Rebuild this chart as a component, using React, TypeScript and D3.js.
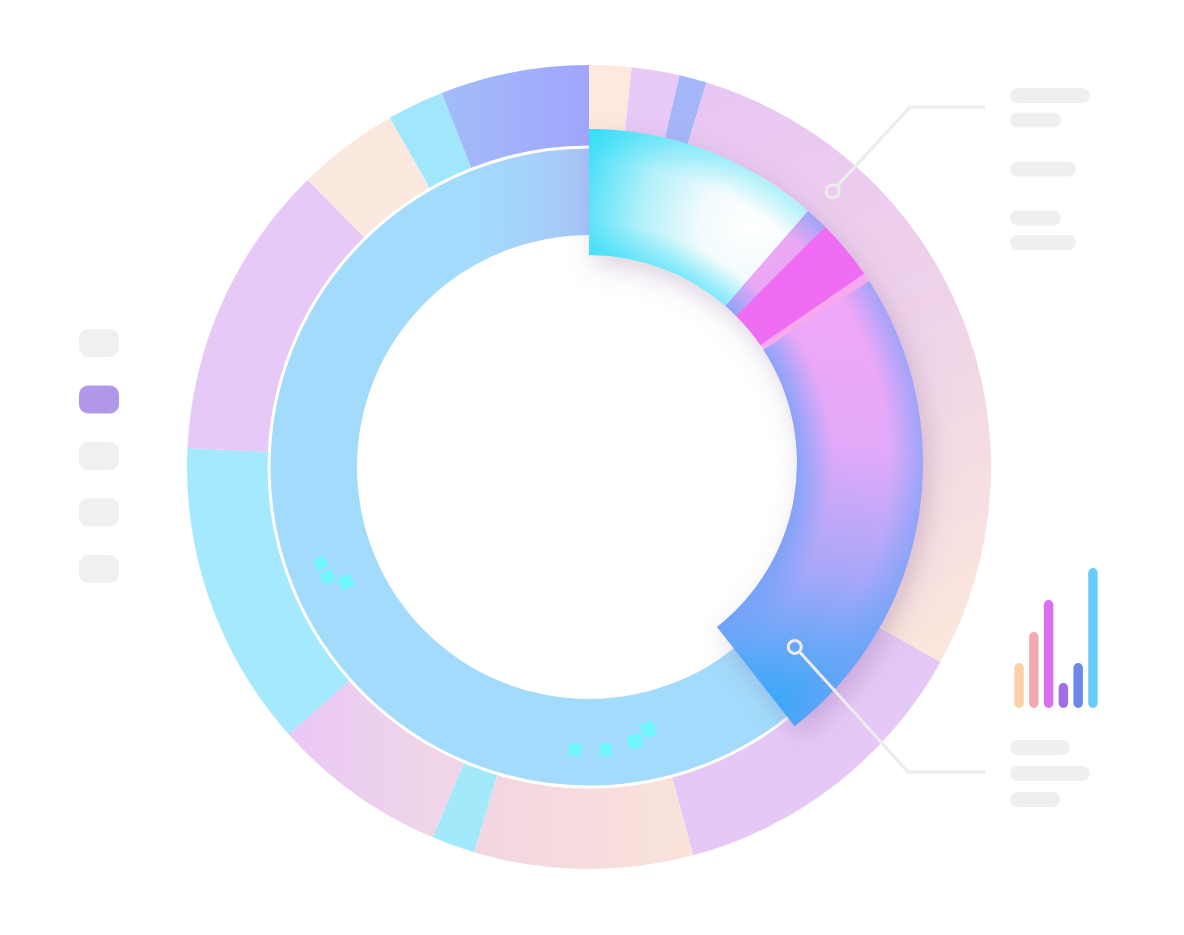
import React from 'react';
import * as d3 from 'd3';

// outer ring shares (degrees of the circle), clockwise from 12 o'clock
const outerShares = [6.1, 6.9, 4, 102, 46, 31.6, 6.3, 25.4, 44.4, 42.9, 14.7, 8.2, 21.5];
const outerFills = [
  '#fde9dd', '#e9c9f6', '#a6b6fa', 'url(#gPinkPeach)', '#e5c8f6', 'url(#gRosePeach)',
  '#a2e9fc', 'url(#gLavRose)', '#a4e9fd', '#e6c9f7', '#fbe8df', '#a0e7fc', 'url(#gPeri)'
];

// highlighted (pulled out) slices of the inner ring
const highlightShares = [41, 4, 10.5, 1.5, 85];
const highlightFills = ['url(#gCyan)', '#eda8f5', '#f06cf2', '#f9a8ef', 'url(#gPinkBlue)'];
const highlightEdgeTint = ['url(#gEdgeCyan)', 'url(#gEdge)', null, null, 'url(#gEdge)'];

// little pixel squares on the inner ring (angle deg, radius, size)
const pixelAngles = [250.3, 247.2, 244.7, 182.8, 176.6, 170.5, 167.3];
const pixelRadius = [285, 284, 269, 283, 283, 278, 269];
const pixelSize = [12, 12, 13, 12, 12, 14, 14];

// legend swatches on the left
const legendItems = ['a', 'b', 'c', 'd', 'e'];
const legendActive = 1;

// mini bar chart
const miniBars = [45, 76, 108, 25, 45, 140];
const miniColors = ['#fdd0a8', '#f2a9b2', '#d86ff0', '#a06fe6', '#6a89e8', '#68cdfc'];

// grey placeholder lines (widths)
const topNotes = [80, 51, 66, 51, 66];
const topNoteRows = [0, 1, 3, 5, 6];
const bottomNotes = [60, 80, 50];

const W = 1184;
const H = 935;
const cx = 589;
const cy = 467;

const App: React.FC = () => {
  const deg = d3.scaleLinear().domain([0, 360]).range([0, 2 * Math.PI]);

  const outerPie = d3.pie<number>().sort(null).value(d => d).startAngle(0).endAngle(deg(360));
  const outerArcs = outerPie(outerShares);
  const outerArc = d3.arc<d3.PieArcDatum<number>>().innerRadius(321).outerRadius(402);

  const hlTotal = d3.sum(highlightShares);
  const hlPie = d3.pie<number>().sort(null).value(d => d).startAngle(0).endAngle(deg(hlTotal));
  const hlArcs = hlPie(highlightShares);
  const hlInner = 208;
  const hlOuter = 334;
  const hlArc = d3.arc<d3.PieArcDatum<number>>().innerRadius(hlInner).outerRadius(hlOuter);
  const hlDy = -4;
  const hy = cy + hlDy;

  const ring = d3.arc<any>().innerRadius(232).outerRadius(319);
  const innerRing = ring({ startAngle: 0, endAngle: 2 * Math.PI });
  const innerTop = ring({ startAngle: deg(300), endAngle: deg(360) });

  const polar = (a: number, r: number, oy = 0) => [
    cx + r * Math.sin(deg(a)),
    cy + oy - r * Math.cos(deg(a))
  ];

  const [t1x, t1y] = polar(41.5, 368);
  const [b1x, b1y] = polar(131.8, 276, hlDy);

  const barX = d3.scaleBand<number>().domain(d3.range(miniBars.length)).range([1009, 1103]).padding(0.36);
  const barY = d3.scaleLinear().domain([0, 140]).range([708, 568]);

  const toRing = `translate(${-cx},${-cy})`;
  const toHl = `translate(${-cx},${-hy})`;
  const k = hlInner / hlOuter;

  return (
    <svg width={W} height={H} style={{ position: 'absolute', left: 0, top: 0, background: '#fff' }}>
      <defs>
        <linearGradient id="gPinkPeach" gradientUnits="userSpaceOnUse" gradientTransform={toRing} x1="700" y1="90" x2="960" y2="640">
          <stop offset="0" stopColor="#e8c6f4" />
          <stop offset="0.45" stopColor="#eed1ea" />
          <stop offset="1" stopColor="#fbe7dc" />
        </linearGradient>
        <linearGradient id="gRosePeach" gradientUnits="userSpaceOnUse" gradientTransform={toRing} x1="475" y1="0" x2="693" y2="0">
          <stop offset="0" stopColor="#f2d5e2" />
          <stop offset="1" stopColor="#fae3da" />
        </linearGradient>
        <linearGradient id="gLavRose" gradientUnits="userSpaceOnUse" gradientTransform={toRing} x1="290" y1="0" x2="433" y2="0">
          <stop offset="0" stopColor="#e9c8f5" />
          <stop offset="1" stopColor="#f0d5e8" />
        </linearGradient>
        <linearGradient id="gPeri" gradientUnits="userSpaceOnUse" gradientTransform={toRing} x1="440" y1="0" x2="589" y2="0">
          <stop offset="0" stopColor="#a3bdfa" />
          <stop offset="1" stopColor="#a0a6fc" />
        </linearGradient>
        <linearGradient id="gInnerTop" gradientUnits="userSpaceOnUse" gradientTransform={toRing} x1="480" y1="0" x2="589" y2="0">
          <stop offset="0" stopColor="#a9c6f9" stopOpacity="0" />
          <stop offset="1" stopColor="#a9c4f9" stopOpacity="1" />
        </linearGradient>
        <radialGradient id="gCyan" gradientUnits="userSpaceOnUse" gradientTransform={toHl} cx="752" cy="228" r="205">
          <stop offset="0" stopColor="#ffffff" />
          <stop offset="0.25" stopColor="#f3fbfd" />
          <stop offset="0.55" stopColor="#b0f0fa" />
          <stop offset="0.85" stopColor="#4ce0f8" />
          <stop offset="1" stopColor="#2adcf8" />
        </radialGradient>
        <radialGradient id="gEdgeCyan" gradientUnits="userSpaceOnUse" cx="0" cy="0" r={hlOuter}>
          <stop offset={k} stopColor="#2cdcf8" stopOpacity="0.5" />
          <stop offset={k + 0.1} stopColor="#2cdcf8" stopOpacity="0" />
          <stop offset="0.9" stopColor="#2cdcf8" stopOpacity="0" />
          <stop offset="1" stopColor="#2cdcf8" stopOpacity="0.35" />
        </radialGradient>
        <linearGradient id="gPinkBlue" gradientUnits="userSpaceOnUse" gradientTransform={toHl} x1="860" y1="290" x2="785" y2="725">
          <stop offset="0" stopColor="#f3a6f8" />
          <stop offset="0.35" stopColor="#e2a9f9" />
          <stop offset="0.65" stopColor="#a6a7f8" />
          <stop offset="1" stopColor="#28a8f8" />
        </linearGradient>
        <radialGradient id="gEdge" gradientUnits="userSpaceOnUse" cx="0" cy="0" r={hlOuter}>
          <stop offset={k} stopColor="#6ea2f8" stopOpacity="0.75" />
          <stop offset="0.73" stopColor="#6ea2f8" stopOpacity="0" />
          <stop offset="0.9" stopColor="#6ea2f8" stopOpacity="0" />
          <stop offset="1" stopColor="#6ea2f8" stopOpacity="0.6" />
        </radialGradient>
        <filter id="shadow" x="-30%" y="-30%" width="160%" height="160%">
          <feDropShadow dx="6" dy="10" stdDeviation="13" floodColor="#7a5a90" floodOpacity="0.28" />
        </filter>
      </defs>

      {/* outer ring */}
      <g transform={`translate(${cx},${cy})`}>
        {outerArcs.map((a, i) => (
          <path key={i} d={outerArc(a) as string} fill={outerFills[i]} />
        ))}
      </g>

      {/* inner ring */}
      <g transform={`translate(${cx},${cy})`}>
        <path d={innerRing as string} fill="#a2dbfb" />
        <path d={innerTop as string} fill="url(#gInnerTop)" />
        <circle r={320} fill="none" stroke="#ffffff" strokeWidth={3} />
      </g>

      {/* pixel squares */}
      {pixelAngles.map((a, i) => {
        const [x, y] = polar(a, pixelRadius[i]);
        const s = pixelSize[i];
        return (
          <rect
            key={i}
            x={x - s / 2}
            y={y - s / 2}
            width={s}
            height={s}
            fill="#6ef6fb"
            transform={`rotate(${a - 180} ${x} ${y})`}
          />
        );
      })}

      {/* highlighted slices */}
      <g transform={`translate(${cx},${hy})`} filter="url(#shadow)">
        {hlArcs.map((a, i) => (
          <path key={i} d={hlArc(a) as string} fill={highlightFills[i]} />
        ))}
      </g>
      <g transform={`translate(${cx},${hy})`}>
        {hlArcs.map((a, i) =>
          highlightEdgeTint[i] ? <path key={i} d={hlArc(a) as string} fill={highlightEdgeTint[i] as string} /> : null
        )}
      </g>

      {/* leader lines */}
      <g fill="none" stroke="#ececec" strokeWidth={3}>
        <polyline points={`${t1x + 4},${t1y - 5} 910,107 985,107`} />
        <circle cx={t1x} cy={t1y} r={6.5} />
        <polyline points={`${b1x + 4.5},${b1y + 4.5} 908,772 985,772`} />
        <circle cx={b1x} cy={b1y} r={6.5} />
      </g>

      {/* legend swatches */}
      {legendItems.map((key, i) => (
        <rect
          key={key}
          x={79}
          y={329 + i * 56.5}
          width={40}
          height={28}
          rx={9}
          fill={i === legendActive ? '#b197ea' : '#f0f0f0'}
        />
      ))}

      {/* placeholder notes */}
      {topNotes.map((w, i) => (
        <rect key={'t' + i} x={1010} y={88 + topNoteRows[i] * 24.5} width={w} height={15} rx={7.5} fill="#efefef" />
      ))}
      {bottomNotes.map((w, i) => (
        <rect key={'b' + i} x={1010} y={740 + i * 26} width={w} height={15} rx={7.5} fill="#efefef" />
      ))}

      {/* mini bars */}
      {miniBars.map((v, i) => (
        <rect
          key={'m' + i}
          x={barX(i)}
          y={barY(v)}
          width={barX.bandwidth()}
          height={barY(0) - barY(v)}
          rx={barX.bandwidth() / 2}
          fill={miniColors[i]}
        />
      ))}
    </svg>
  );
};

export default App;
